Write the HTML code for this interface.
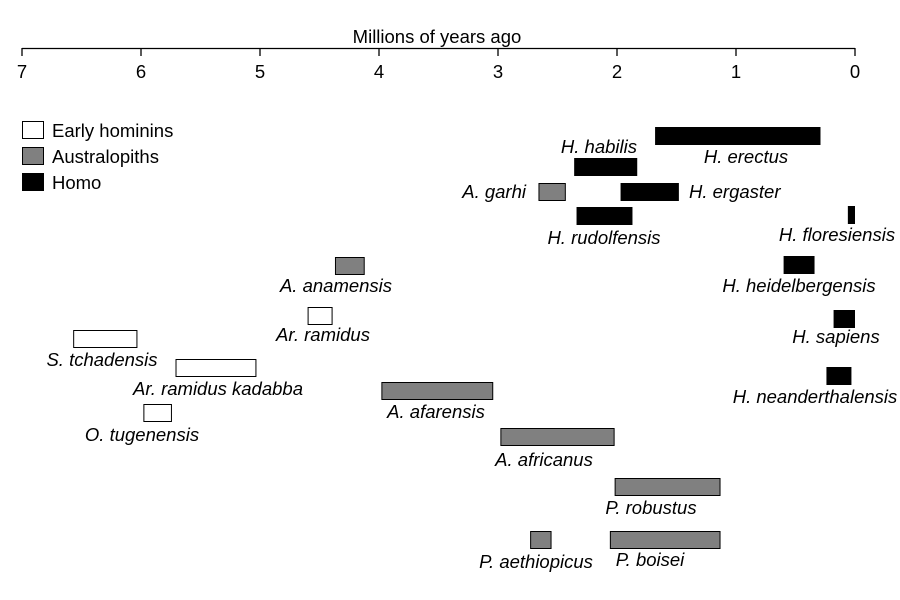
<!DOCTYPE html>
<html><head><meta charset="utf-8"><style>
html,body{margin:0;padding:0;background:#fff;}
svg{display:block;font-family:"Liberation Sans",Arial,sans-serif;}
</style></head><body>
<svg id="chart" width="900" height="600">
<g id="axis"></g>
<g id="legend"></g>
<g id="bars"></g>
<g id="labels"></g>
</svg>
<script>
const species = ["H. erectus","H. habilis","A. garhi","H. ergaster","H. rudolfensis","H. floresiensis","A. anamensis","H. heidelbergensis","Ar. ramidus","H. sapiens","S. tchadensis","Ar. ramidus kadabba","H. neanderthalensis","A. afarensis","O. tugenensis","A. africanus","P. robustus","P. aethiopicus","P. boisei"];
const startMya = [1.68,2.36,2.66,1.97,2.34,0.06,4.37,0.60,4.60,0.18,6.57,5.71,0.24,3.98,5.98,2.98,2.02,2.73,2.06];
const endMya   = [0.29,1.83,2.43,1.48,1.87,0.00,4.12,0.34,4.39,0.00,6.03,5.03,0.03,3.04,5.74,2.02,1.13,2.55,1.13];
const group    = ["Homo","Homo","Australopiths","Homo","Homo","Homo","Australopiths","Homo","Early hominins","Homo","Early hominins","Early hominins","Homo","Australopiths","Early hominins","Australopiths","Australopiths","Australopiths","Australopiths"];
const groups = ["Early hominins","Australopiths","Homo"];
const tickValues = [7,6,5,4,3,2,1,0];
// layout (not data): bar row tops and label placement
const rowTop = [127,158,183,183,207,206,257,256,307,310,330,359,367,382,404,428,478,531,531];
const labelPos = [[746,163,"middle"],[637,153,"end"],[526,198,"end"],[689,198,"start"],[604,244,"middle"],[837,241,"middle"],[336,292,"middle"],[799,292,"middle"],[323,341,"middle"],[836,343,"middle"],[102,366,"middle"],[218,395,"middle"],[815,403,"middle"],[436,418,"middle"],[142,441,"middle"],[544,466,"middle"],[651,514,"middle"],[536,568,"middle"],[650,566,"middle"]];
const fills = {"Early hominins":"#fff","Australopiths":"#808080","Homo":"#000"};
const FS = 18.5;
const NS="http://www.w3.org/2000/svg";
const x = t => 855 - (833/7)*t;
function mk(tag, parent, attrs){const e=document.createElementNS(NS,tag);for(const k in attrs)e.setAttribute(k,attrs[k]);parent.appendChild(e);return e;}
const axis=document.getElementById('axis');
let l=mk('line',axis,{x1:x(7),x2:x(0),y1:48.5,y2:48.5,stroke:'#000','stroke-width':1.3});


tickValues.forEach(v=>{
  const t=mk('line',axis,{x1:x(v),x2:x(v),y1:48,y2:56,stroke:'#000','stroke-width':1.3});
  
  
  const tx=mk('text',axis,{x:x(v),y:78,'text-anchor':'middle','font-size':FS});
  tx.textContent=v;
  
  
});
const title=mk('text',axis,{x:437,y:43,'text-anchor':'middle','font-size':FS});
title.textContent='Millions of years ago';


const leg=document.getElementById('legend');
groups.forEach((g,i)=>{
  const r=mk('rect',leg,{x:22.5,y:121.5+i*26,width:21,height:17,fill:fills[g],stroke:'#000','stroke-width':1});
  
  
  const t=mk('text',leg,{x:52,y:137+i*26,'font-size':FS});
  t.textContent=g;
  
  
});
const bars=document.getElementById('bars'),labs=document.getElementById('labels');
species.forEach((s,i)=>{
  const x0=x(startMya[i]),x1=x(endMya[i]);
  const r=mk('rect',bars,{x:x0+0.5,y:rowTop[i]+0.5,width:Math.max(1,x1-x0-1),height:17,fill:fills[group[i]],stroke:'#000','stroke-width':1});
  
  
  const p=labelPos[i];
  const t=mk('text',labs,{x:p[0],y:p[1],'text-anchor':p[2],'font-size':FS,'font-style':'italic'});
  t.textContent=s;
  
  
});
</script>
</body></html>
